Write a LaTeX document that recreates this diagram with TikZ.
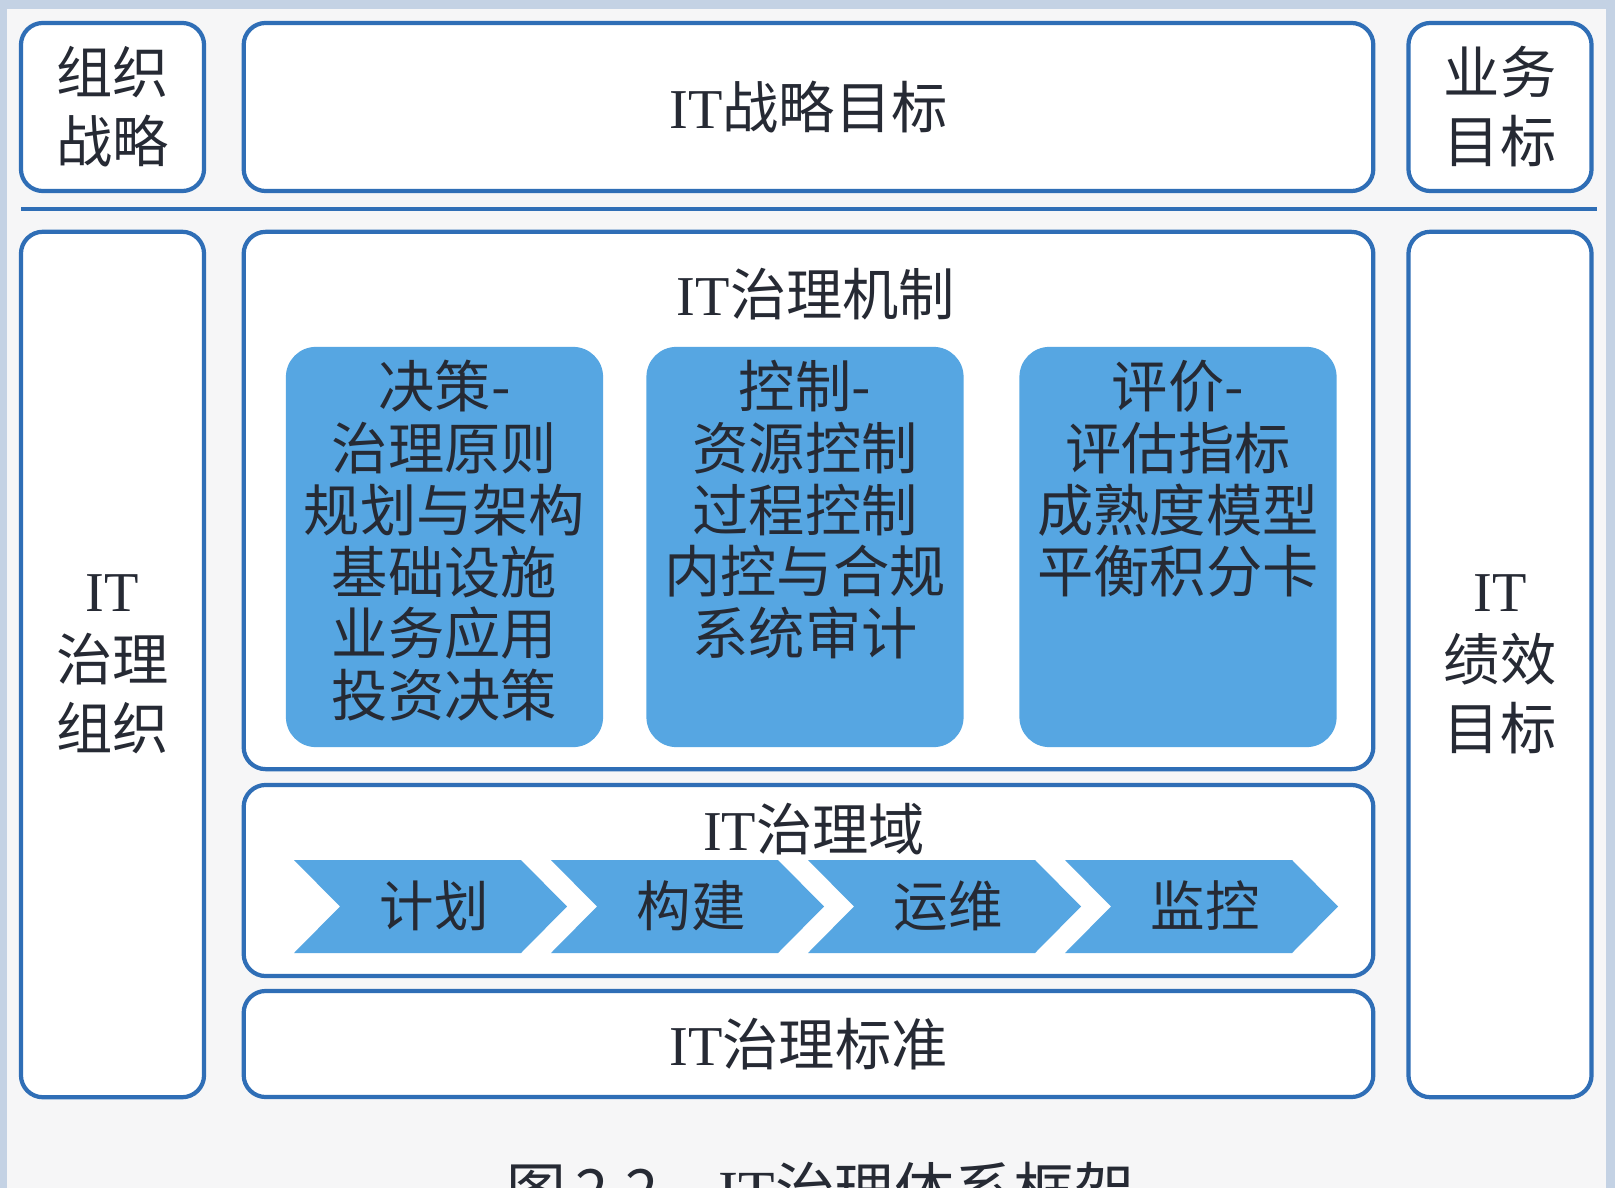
\documentclass[tikz,border=0pt]{standalone}
\usepackage{fontspec}
\setmainfont{Liberation Serif}
\newfontfamily\cjk{Noto Sans CJK SC}
\usetikzlibrary{positioning}
\definecolor{frameblue}{RGB}{47,110,182}
\definecolor{mechfill}{RGB}{86,166,226}
\definecolor{inktext}{RGB}{38,42,52}
\definecolor{pagebg}{RGB}{246,246,247}
\definecolor{screenedge}{RGB}{196,210,228}
\tikzset{
    sidebox/.style={
        rectangle, rounded corners=0.22cm, minimum width=1.83cm,
        draw=frameblue, line width=1.2pt, fill=white, inner sep=0pt,
        align=center, text=inktext, font=\fontsize{16}{19.6}\cjk
    },
    widebox/.style={
        sidebox, minimum width=11.29cm
    },
    mechbox/.style={
        rectangle, rounded corners=0.3cm, minimum width=3.17cm, minimum height=4.0cm,
        fill=mechfill, inner sep=0pt
    },
    mechtext/.style={
        align=center, inner sep=0pt, text=inktext, font=\fontsize{16}{17.6}\cjk
    },
    title/.style={
        inner sep=0pt, text=inktext, font=\fontsize{16}{19.6}\cjk
    },
    chevron/.style={
        fill=mechfill
    },
    stagetext/.style={
        inner sep=0pt, text=inktext, font=\fontsize{15.5}{18}\cjk
    },
    rule/.style={
        draw=frameblue, line width=1.2pt
    }
}

\begin{document}
\begin{tikzpicture}[x=0.01cm, y=-0.01cm]

    \useasboundingbox (0,0) rectangle (1615,1188);
    \fill[screenedge] (0,0) rectangle (1615,1188);
    \fill[pagebg] (7,9) rectangle (1606,1188);

    % top row
    \node[sidebox, minimum height=1.68cm] (orgstrat) at (112.5,107)  {组织\\战略};
    \node[widebox, minimum height=1.68cm] (itstrat)  at (808.5,107)  {{\rmfamily IT}战略目标};
    \node[sidebox, minimum height=1.68cm] (bizgoal)  at (1500,107)   {业务\\目标};

    \coordinate (ruleL) at (21,209);
    \coordinate (ruleR) at (1597,209);
    \draw[rule] (ruleL) -- (ruleR);

    % side columns
    \node[sidebox, minimum height=8.65cm] (govorg)   at (112.5,664.5) {{\rmfamily IT}\\治理\\组织};
    \node[sidebox, minimum height=8.65cm] (perfgoal) at (1500,664.5)  {{\rmfamily IT}\\绩效\\目标};

    % mechanisms
    \node[widebox, minimum height=5.37cm] (mech) at (808.5,500.5) {};
    \node[title] (mechtitle) at (816,294) {{\rmfamily IT}治理机制};

    \node[mechbox] (decide)   at (444.5,547) {};
    \node[mechbox] (control)  at (805,547)   {};
    \node[mechbox] (evaluate) at (1178,547)  {};

    \node[mechtext, below=0.13cm of decide.north]   (decidetxt)
        {决策-\\治理原则\\规划与架构\\基础设施\\业务应用\\投资决策};
    \node[mechtext, below=0.13cm of control.north]  (controltxt)
        {控制-\\资源控制\\过程控制\\内控与合规\\系统审计};
    \node[mechtext, below=0.13cm of evaluate.north] (evaluatetxt)
        {评价-\\评估指标\\成熟度模型\\平衡积分卡};

    % domains
    \node[widebox, minimum height=1.91cm] (domain) at (808.5,880.5) {};
    \node[title] (domaintitle) at (814,829) {{\rmfamily IT}治理域};

    \foreach \i/\stage/\txt in {0/plan/计划, 1/build/构建, 2/ops/运维, 3/watch/监控}{
        \pgfmathsetmacro{\xo}{294+257*\i}
        \fill[chevron] (\xo,860) -- ++(227,0) -- ++(46,46.5) -- ++(-46,46.5)
            -- ++(-227,0) -- ++(46,-46.5) -- cycle;
        \node[stagetext] (\stage) at (\xo+140,906) {\txt};
    }

    % standards
    \node[widebox, minimum height=1.06cm] (std) at (808.5,1044) {{\rmfamily IT}治理标准};

    \node[title, font=\fontsize{17}{20}\cjk] (caption) at (820,1190)
        {图\,2.2\quad{\rmfamily IT}治理体系框架};

\end{tikzpicture}
\end{document}
